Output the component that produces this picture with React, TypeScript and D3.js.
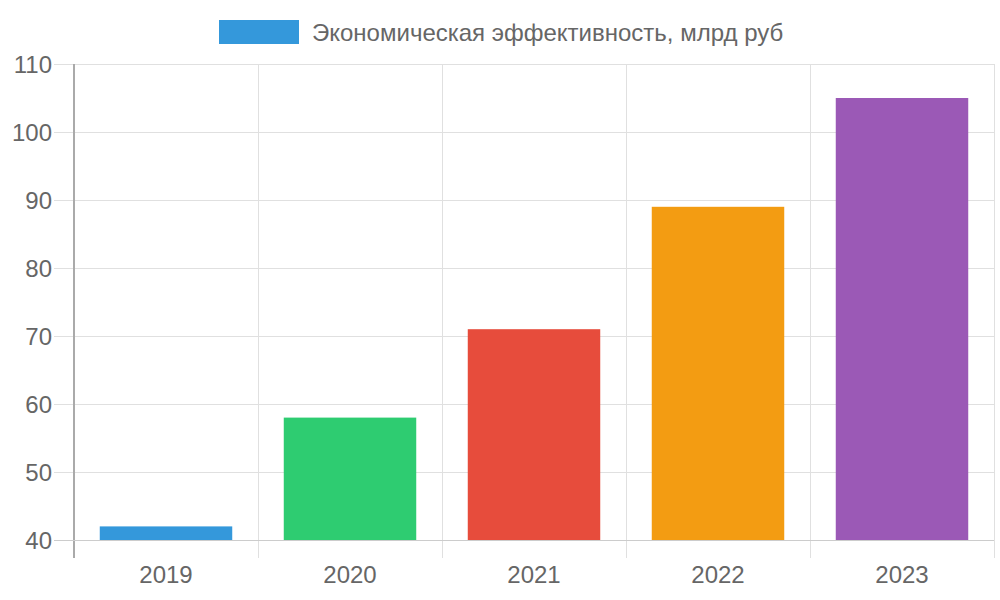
import React, { useEffect, useRef } from "react";
import * as d3 from "d3";

const categories = ["2019", "2020", "2021", "2022", "2023"];
const values = [42, 58, 71, 89, 105];
const colors = ["#3498db", "#2ecc71", "#e74c3c", "#f39c12", "#9b59b6"];
const yTicks = [40, 50, 60, 70, 80, 90, 100, 110];
const seriesLabel = "Экономическая эффективность, млрд руб";

export default function App() {
  const ref = useRef<SVGSVGElement>(null);
  useEffect(() => {
    const svg = d3.select(ref.current);
    svg.selectAll("*").remove();
    const W = 1000, H = 600;
    const left = 74, right = 994, top = 64, bottom = 540;
    const font = "'Liberation Sans', Arial, sans-serif";
    const fs = 24;
    const x = d3.scaleBand().domain(categories).range([left, right]).paddingInner(0).paddingOuter(0);
    const y = d3.scaleLinear().domain([40, 110]).range([bottom, top]);

    svg.attr("width", W).attr("height", H);

    const g = svg.append("g");
    yTicks.forEach((t) => {
      g.append("line")
        .attr("x1", left - 20).attr("x2", right)
        .attr("y1", y(t)).attr("y2", y(t))
        .attr("stroke", t === 40 ? "#cccccc" : "#e0e0e0").attr("stroke-width", 1)
        .attr("shape-rendering", "crispEdges");
      g.append("text")
        .attr("x", left - 22).attr("y", y(t))
        .attr("dy", "0.36em")
        .attr("text-anchor", "end")
        .attr("font-family", font).attr("font-size", fs)
        .attr("fill", "#666")
        .text(t);
    });

    const bounds = categories.map((c) => x(c) as number).concat([right]);
    bounds.forEach((bx, i) => {
      g.append("line")
        .attr("x1", bx).attr("x2", bx)
        .attr("y1", top).attr("y2", bottom + 18)
        .attr("stroke", i === 0 ? "#aaaaaa" : "#e0e0e0").attr("stroke-width", i === 0 ? 2 : 1)
        .attr("shape-rendering", "crispEdges");
    });

    const bw = x.bandwidth() * 0.72;
    svg.append("g").selectAll("rect").data(values).join("rect")
      .attr("x", (_, i) => (x(categories[i]) as number) + (x.bandwidth() - bw) / 2)
      .attr("width", bw)
      .attr("y", (d) => y(d))
      .attr("height", (d) => bottom - y(d))
      .attr("fill", (_, i) => colors[i]);

    svg.append("line")
      .attr("x1", left - 20).attr("x2", right)
      .attr("y1", bottom).attr("y2", bottom)
      .attr("stroke", "#cccccc").attr("stroke-width", 1)
      .attr("shape-rendering", "crispEdges");

    categories.forEach((c) => {
      svg.append("text")
        .attr("x", (x(c) as number) + x.bandwidth() / 2)
        .attr("y", bottom + 34)
        .attr("dy", "0.36em")
        .attr("text-anchor", "middle")
        .attr("font-family", font).attr("font-size", fs)
        .attr("fill", "#666")
        .text(c);
    });

    svg.append("rect").attr("x", 219).attr("y", 20).attr("width", 80).attr("height", 24).attr("fill", colors[0]);
    svg.append("text")
      .attr("x", 312).attr("y", 32).attr("dy", "0.36em")
      .attr("font-family", font).attr("font-size", fs)
      .attr("fill", "#666")
      .text(seriesLabel);
  }, []);
  return <svg ref={ref} style={{ position: "absolute", left: 0, top: 0, display: "block" }} />;
}
